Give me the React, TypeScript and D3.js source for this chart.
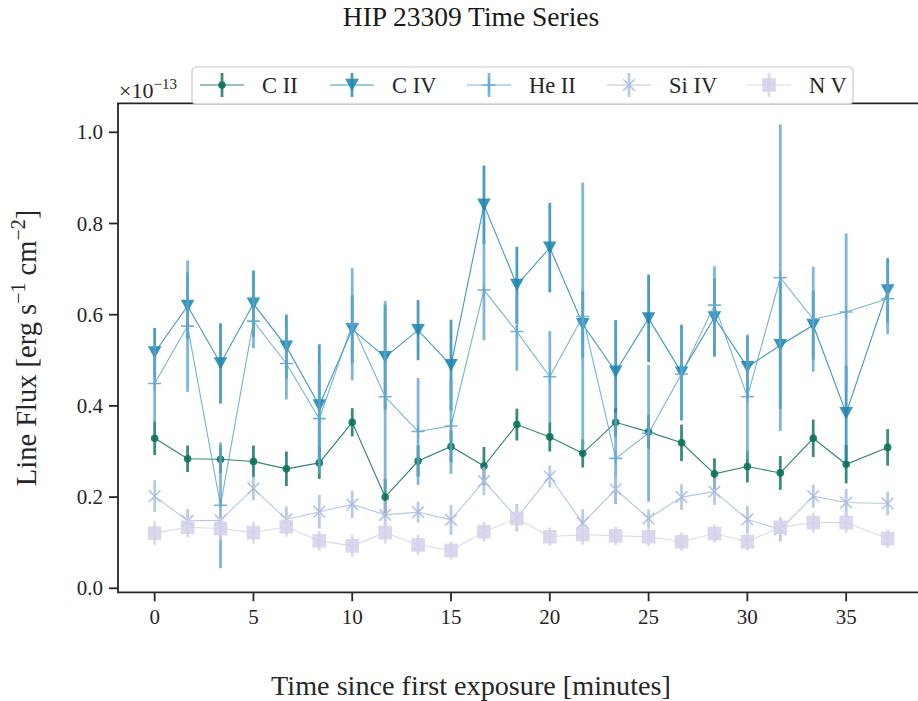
import React from 'react';
import * as d3 from 'd3';

// ---- data ----
const times = [0, 1.667, 3.333, 5, 6.667, 8.333, 10, 11.667, 13.333, 15, 16.667, 18.333, 20, 21.667, 23.333, 25, 26.667, 28.333, 30, 31.667, 33.333, 35, 37.1];

const cII = [0.329, 0.284, 0.283, 0.278, 0.262, 0.275, 0.364, 0.200, 0.279, 0.311, 0.268, 0.359, 0.332, 0.296, 0.364, 0.343, 0.319, 0.251, 0.267, 0.253, 0.329, 0.272, 0.309];
const cIIErr = [0.037, 0.029, 0.030, 0.035, 0.038, 0.035, 0.031, 0.040, 0.034, 0.035, 0.042, 0.035, 0.032, 0.031, 0.031, 0.037, 0.040, 0.034, 0.035, 0.037, 0.041, 0.042, 0.040];

const cIV = [0.517, 0.619, 0.493, 0.624, 0.530, 0.401, 0.568, 0.507, 0.566, 0.489, 0.841, 0.665, 0.747, 0.579, 0.475, 0.592, 0.473, 0.594, 0.485, 0.533, 0.577, 0.384, 0.653];
const cIVErr = [0.054, 0.073, 0.088, 0.073, 0.070, 0.134, 0.075, 0.115, 0.066, 0.100, 0.086, 0.084, 0.098, 0.073, 0.113, 0.096, 0.105, 0.086, 0.068, 0.140, 0.075, 0.104, 0.071];

const heII = [0.449, 0.575, 0.182, 0.586, 0.493, 0.372, 0.579, 0.420, 0.344, 0.356, 0.654, 0.563, 0.464, 0.596, 0.285, 0.340, 0.470, 0.621, 0.420, 0.681, 0.590, 0.606, 0.635];
const heIIErr = [0.085, 0.144, 0.138, 0.060, 0.079, 0.120, 0.123, 0.210, 0.117, 0.105, 0.110, 0.086, 0.100, 0.294, 0.100, 0.150, 0.100, 0.085, 0.137, 0.336, 0.115, 0.172, 0.078];

const siIV = [0.202, 0.148, 0.149, 0.219, 0.151, 0.168, 0.184, 0.161, 0.167, 0.150, 0.235, 0.155, 0.245, 0.143, 0.217, 0.153, 0.200, 0.212, 0.151, 0.129, 0.202, 0.188, 0.186];
const siIVErr = [0.035, 0.026, 0.028, 0.026, 0.028, 0.037, 0.030, 0.030, 0.023, 0.033, 0.031, 0.030, 0.024, 0.030, 0.030, 0.020, 0.028, 0.029, 0.029, 0.026, 0.025, 0.030, 0.026];

const nV = [0.121, 0.134, 0.131, 0.122, 0.135, 0.104, 0.093, 0.122, 0.095, 0.083, 0.124, 0.153, 0.113, 0.118, 0.115, 0.113, 0.102, 0.120, 0.102, 0.134, 0.144, 0.144, 0.109];
const nVErr = [0.026, 0.022, 0.024, 0.024, 0.022, 0.022, 0.024, 0.024, 0.022, 0.020, 0.022, 0.025, 0.020, 0.022, 0.020, 0.020, 0.020, 0.020, 0.020, 0.022, 0.022, 0.022, 0.020];

const seriesNames = ['C II', 'C IV', 'He II', 'Si IV', 'N V'];
const seriesValues = [cII, cIV, heII, siIV, nV];
const seriesErrors = [cIIErr, cIVErr, heIIErr, siIVErr, nVErr];
const seriesMarkers = ['circle', 'triDown', 'plus', 'x', 'square'];
const seriesColors = ['#0b6f5c', '#1f87b2', '#5ea6d0', '#a9bde0', '#d6d2ea'];

const xTicks = [0, 5, 10, 15, 20, 25, 30, 35];
const yTicks = [0.0, 0.2, 0.4, 0.6, 0.8, 1.0];

// ---- layout ----
const W = 918;
const H = 701;
const FONT = '"Liberation Serif", "Times New Roman", serif';
const AX = '#262626';
const plotLeft = 118;
const plotRight = 924.3;
const plotTop = 103.3;
const plotBottom = 592.3;

const x = d3.scaleLinear().domain([-1.855, 38.955]).range([plotLeft, plotRight]);
const y = d3.scaleLinear().domain([-0.0088, 1.0636]).range([plotBottom, plotTop]);

function Marker({ type, cx, cy, color }: { type: string; cx: number; cy: number; color: string }) {
  if (type === 'circle') return <circle cx={cx} cy={cy} r={3.8} fill={color} />;
  if (type === 'triDown') {
    const hw = 6.8, hh = 6.2;
    return <path d={`M${cx - hw},${cy - hh}L${cx + hw},${cy - hh}L${cx},${cy + hh}Z`} fill={color} />;
  }
  if (type === 'plus') {
    const s = 6.5;
    return <path d={`M${cx - s},${cy}L${cx + s},${cy}M${cx},${cy - s}L${cx},${cy + s}`} stroke={color} strokeWidth={1.6} fill="none" />;
  }
  if (type === 'x') {
    const s = 5.8;
    return <path d={`M${cx - s},${cy - s}L${cx + s},${cy + s}M${cx - s},${cy + s}L${cx + s},${cy - s}`} stroke={color} strokeWidth={1.6} fill="none" />;
  }
  const s = 6.8;
  return <rect x={cx - s} y={cy - s} width={2 * s} height={2 * s} fill={color} />;
}

function Series({ idx }: { idx: number }) {
  const vals = seriesValues[idx];
  const errs = seriesErrors[idx];
  const color = seriesColors[idx];
  const pts = times.map((t, i) => [x(t), y(vals[i])] as [number, number]);
  const line = d3.line()(pts) || '';
  return (
    <g>
      <path d={line} fill="none" stroke={color} strokeWidth={1.1} opacity={0.85} />
      {times.map((t, i) => (
        <line key={'e' + i} x1={x(t)} x2={x(t)} y1={y(vals[i] - errs[i])} y2={y(vals[i] + errs[i])}
          stroke={color} strokeWidth={2.8} opacity={0.8} />
      ))}
      {times.map((t, i) => (
        <g key={'m' + i} opacity={0.88}>
          <Marker type={seriesMarkers[idx]} cx={x(t)} cy={y(vals[i])} color={color} />
        </g>
      ))}
    </g>
  );
}

const legendHandleX = [200, 330, 467, 607, 747];

export default function App() {
  return (
    <svg width={W} height={H} style={{ position: 'absolute', left: 0, top: 0, background: '#fff' }}
      fontFamily={FONT}>
      <rect x={0} y={0} width={W} height={H} fill="#fff" />
      {/* title */}
      <text x={471} y={26} textAnchor="middle" fontSize={27.5} fill="#1a1a1a">HIP 23309 Time Series</text>

      {/* series */}
      <g>
        {seriesNames.map((_, i) => <Series key={i} idx={i} />)}
      </g>

      {/* spines */}
      <line x1={plotLeft} x2={plotLeft} y1={plotTop} y2={plotBottom} stroke={AX} strokeWidth={1.8} />
      <line x1={plotLeft - 0.9} x2={plotRight} y1={plotBottom} y2={plotBottom} stroke={AX} strokeWidth={1.8} />
      <line x1={plotLeft - 0.9} x2={plotRight} y1={plotTop} y2={plotTop} stroke={AX} strokeWidth={1.8} />
      <line x1={plotRight} x2={plotRight} y1={plotTop} y2={plotBottom} stroke={AX} strokeWidth={1.8} />

      {/* y ticks */}
      {yTicks.map((v) => (
        <g key={'yt' + v}>
          <line x1={plotLeft - 9} x2={plotLeft} y1={y(v)} y2={y(v)} stroke={AX} strokeWidth={1.8} />
          <text x={plotLeft - 15} y={y(v)} dy="0.34em" textAnchor="end" fontSize={21} fill="#262626">{v.toFixed(1)}</text>
        </g>
      ))}
      {/* x ticks */}
      {xTicks.map((v) => (
        <g key={'xt' + v}>
          <line x1={x(v)} x2={x(v)} y1={plotBottom} y2={plotBottom + 9} stroke={AX} strokeWidth={1.8} />
          <text x={x(v)} y={624} textAnchor="middle" fontSize={21} fill="#262626">{v}</text>
        </g>
      ))}

      {/* offset text */}
      <text x={119} y={98} fontSize={22} fill="#262626">
        ×10<tspan fontSize={15} dy={-9}>−13</tspan>
      </text>

      {/* axis labels */}
      <text x={471} y={695} textAnchor="middle" fontSize={28.2} fill="#262626">Time since first exposure [minutes]</text>
      <text transform="translate(36,348) rotate(-90)" textAnchor="middle" fontSize={28.5} fill="#262626">
        Line Flux [erg s<tspan fontSize={20} dy={-11}>−1</tspan><tspan dy={11}> cm</tspan><tspan fontSize={20} dy={-11}>−2</tspan><tspan dy={11}>]</tspan>
      </text>

      {/* legend */}
      <g>
        <rect x={192} y={67} width={661} height={37} rx={4} ry={4} fill="#fff" fillOpacity={0.95} stroke="#c8c8c8" strokeWidth={1.2} />
        {seriesNames.map((name, i) => {
          const hx = legendHandleX[i];
          const cy = 85;
          const c = seriesColors[i];
          return (
            <g key={'lg' + i}>
              <line x1={hx} x2={hx + 44} y1={cy} y2={cy} stroke={c} strokeWidth={1.1} opacity={0.85} />
              <line x1={hx + 22} x2={hx + 22} y1={cy - 12} y2={cy + 12} stroke={c} strokeWidth={2.8} opacity={0.8} />
              <g opacity={0.88}><Marker type={seriesMarkers[i]} cx={hx + 22} cy={cy} color={c} /></g>
              <text x={hx + 62} y={cy + 7.5} fontSize={22.5} fill="#262626">{name}</text>
            </g>
          );
        })}
      </g>
    </svg>
  );
}
